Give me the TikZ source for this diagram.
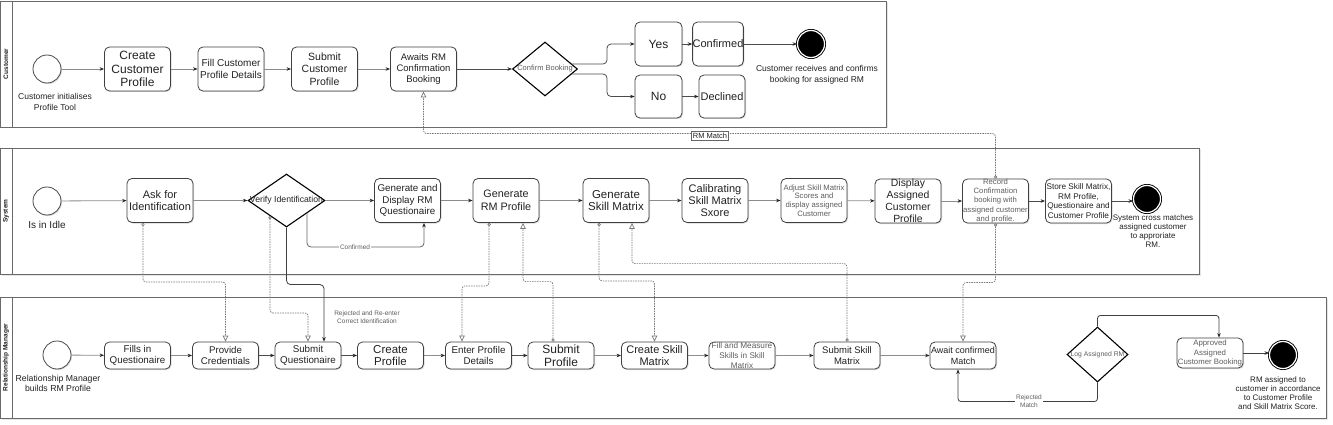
\documentclass[tikz,border=0pt]{standalone}
\usepackage{fontspec}
\setmainfont{Liberation Sans}
\usetikzlibrary{arrows.meta,shapes.geometric,shadows,calc}
\definecolor{txt}{HTML}{222222}
\definecolor{gtxt}{HTML}{5E5E5E}
\definecolor{flowc}{HTML}{8C8C8C}
\definecolor{lanec}{HTML}{6A6A6A}
\definecolor{msgc}{HTML}{777777}
\newcommand\fsz[2]{\fontsize{#1}{#2}\selectfont}
\begin{document}
\begin{tikzpicture}[x=1pt,y=-1pt,
  lanebox/.style={draw=lanec, line width=0.9pt, fill=white, drop shadow={shadow xshift=1.5pt, shadow yshift=-1.5pt, opacity=0.2}},
  laneline/.style={draw=lanec, line width=0.9pt},
  lanelbl/.style={rotate=90, font=\bfseries\fsz{6.5}{7}, text=txt, inner sep=0pt},
  task/.style={draw=black!75, line width=0.8pt, fill=white, rounded corners=5pt, align=center, inner sep=1pt, text=txt, drop shadow={shadow xshift=1pt, shadow yshift=-1pt, opacity=0.3}},
  big/.style={minimum width=66pt, minimum height=44pt},
  low/.style={minimum width=66pt, minimum height=27pt},
  gate/.style={shape=diamond, draw=black, line width=1.1pt, fill=white, inner sep=0pt},
  startev/.style={circle, draw=black!70, line width=0.8pt, fill=white, minimum size=28pt, inner sep=0pt, drop shadow={shadow xshift=1pt, shadow yshift=-1pt, opacity=0.3}},
  endev/.style={circle, draw=black, fill=black, double=white, double distance=1.2pt, line width=0.9pt, minimum size=27pt, inner sep=0pt},
  lbl/.style={align=center, text=txt, inner sep=0pt},
  elbl/.style={font=\fsz{6.5}{8}, text=gtxt, fill=white, inner sep=1pt, align=center},
  flow/.style={draw=flowc, line width=0.8pt, -{Stealth[length=4.5pt,width=3.5pt,color=black!85]}},
  msg/.style={draw=msgc, line width=0.7pt, dash pattern=on 1.5pt off 1pt, rounded corners=3pt, {Circle[open,length=3.2pt,width=3.2pt]}-{Triangle[open,length=6pt,width=5.5pt]}},
  msgb/.style={draw=msgc, line width=0.7pt, dash pattern=on 1.5pt off 1pt, rounded corners=3pt, {Circle[open,length=3.2pt,width=3.2pt]}-{Triangle[open,length=6pt,width=5.5pt]}}
]
\fill[white] (0,0) rectangle (1333,425);
\useasboundingbox (0,0) rectangle (1333,425);

% ---------- lanes ----------
\draw[lanebox] (0,1) rectangle (886,127);
\draw[laneline] (12,1) -- (12,127);
\draw[lanebox] (0,148) rectangle (1199,274);
\draw[laneline] (12,148) -- (12,274);
\draw[lanebox] (0,297) rectangle (1326,418);
\draw[laneline] (12,297) -- (12,418);
\node[lanelbl] (l1) at (6,64) {Customer};
\node[lanelbl] (l2) at (6,211) {System};
\node[lanelbl] (l3) at (6,357.5) {Relationship Manager};

% ---------- Customer lane ----------
\node[startev] (cs) at (47,69) {};
\node[lbl,font=\fsz{8.5}{10.5}] (csl) at (55,102) {Customer initialises\\Profile Tool};
\node[task,big,font=\fsz{12}{13.5}] (cc) at (137.5,69) {Create\\Customer\\Profile};
\node[task,big,font=\fsz{10}{12}] (cf) at (231,69) {Fill Customer\\Profile Details};
\node[task,big,font=\fsz{10.5}{12.5}] (csub) at (324.5,69) {Submit\\Customer\\Profile};
\node[task,big,font=\fsz{9.5}{11.3}] (caw) at (423.5,69) {Awaits RM\\Confirmation\\Booking};
\node[gate,minimum width=65pt,minimum height=54pt,label={[font=\fsz{7.5}{9},text=gtxt]center:Confirm Booking}] (cb) at (545,69) {};
\node[task,minimum width=47pt,minimum height=44pt,font=\fsz{12}{14}] (yes) at (658.5,44) {Yes};
\node[task,minimum width=50pt,minimum height=44pt,font=\fsz{11}{13},inner sep=0pt] (conf) at (718,44) {Confirmed};
\node[task,minimum width=47pt,minimum height=43pt,font=\fsz{12}{14}] (no) at (658.5,96.5) {No};
\node[task,minimum width=46pt,minimum height=43pt,font=\fsz{11}{13},inner sep=0pt] (decl) at (722,96.5) {Declined};
\node[endev] (ce) at (811,44) {};
\node[lbl,font=\fsz{8.5}{11}] (cel) at (817,74.5) {Customer receives and confirms\\booking for assigned RM};

% ---------- System lane ----------
\node[startev] (ss) at (47,201) {};
\node[lbl,font=\fsz{10}{12}] (ssl) at (47,225) {Is in Idle};
\node[task,big,font=\fsz{11}{12.7}] (ask) at (160,200.5) {Ask for\\Identification};
\node[gate,minimum width=77pt,minimum height=53pt,label={[font=\fsz{8.7}{10},text=txt]center:Verify Identification}] (ver) at (286.5,200.5) {};
\node[task,big,font=\fsz{9.8}{11.8}] (genq) at (407.5,200.5) {Generate and\\Display RM\\Questionaire};
\node[task,big,font=\fsz{10.8}{12.5}] (genrm) at (506,200.5) {Generate\\RM Profile};
\node[task,big,font=\fsz{11.5}{12.5}] (gensm) at (616,200.5) {Generate\\Skill Matrix};
\node[task,big,font=\fsz{11}{12.3}] (cal) at (715,200.5) {Calibrating\\Skill Matrix\\Sxore};
\node[task,big,font=\fsz{7.7}{8.7},text=gtxt] (adj) at (814,200.5) {Adjust Skill Matrix\\Scores and\\display assigned\\Customer};
\node[task,big,label={[font=\fsz{10.4}{12},text=txt,align=center]center:{Display\\Assigned\\Customer\\Profile}}] (disp) at (908,201) {};
\node[task,big,label={[font=\fsz{7.7}{9.1},text=gtxt,align=center]center:{Record\\Confirmation\\booking with\\assigned customer\\and profile.}}] (rec) at (995.5,201) {};
\node[task,big,font=\fsz{8.2}{9.8}] (store) at (1078.5,201) {Store Skill Matrix,\\RM Profile,\\Questionaire and\\Customer Profile};
\node[endev] (se) at (1147,199) {};
\node[lbl,font=\fsz{8}{9}] (sel) at (1153,231.5) {System cross matches\\assigned customer\\to approriate\\RM.};

% ---------- Relationship Manager lane ----------
\node[startev] (rs) at (57,355) {};
\node[lbl,font=\fsz{8.7}{9.5}] (rsl) at (58,383.5) {Relationship Manager\\builds RM Profile};
\node[task,low,font=\fsz{9.8}{11}] (fills) at (137.5,355.5) {Fills in\\Questionaire};
\node[task,low,font=\fsz{9.7}{11}] (prov) at (225.5,355.5) {Provide\\Credentials};
\node[task,low,font=\fsz{9.8}{11}] (subq) at (308,355.5) {Submit\\Questionaire};
\node[task,low,label={[font=\fsz{11.5}{12.7},text=txt,align=center]center:{Create\\Profile}}] (crp) at (390.5,355.5) {};
\node[task,low,font=\fsz{9.8}{11}] (ent) at (478.5,355.5) {Enter Profile\\Details};
\node[task,low,label={[font=\fsz{12}{13.5},text=txt,align=center]center:{Submit\\Profile}}] (subp) at (561,355.5) {};
\node[task,low,font=\fsz{11}{12.3}] (crsm) at (654.5,355.5) {Create Skill\\Matrix};
\node[task,low,label={[font=\fsz{8.2}{10.3},text=gtxt,align=center]center:{Fill and Measure\\Skills in Skill\\Matrix}}] (fillm) at (742,355.5) {};
\node[task,low,font=\fsz{9.5}{11}] (subsm) at (847,355.5) {Submit Skill\\Matrix};
\node[task,low,font=\fsz{9}{11}] (await) at (963,355.5) {Await confirmed\\Match};
\node[gate,minimum width=61pt,minimum height=55pt,label={[font=\fsz{6.8}{8},text=gtxt]center:Log Assigned RM}] (log) at (1097.5,354.5) {};
\node[task,minimum width=66pt,minimum height=30pt,font=\fsz{7.8}{9.2},text=gtxt] (appr) at (1210,353) {Approved\\Assigned\\Customer Booking};
\node[endev] (re) at (1283,355) {};
\node[lbl,font=\fsz{8}{9}] (rel) at (1278,393.5) {RM assigned to\\customer in accordance\\to Customer Profile\\and Skill Matrix Score.};

% ---------- Customer flows ----------
\draw[flow] (cs) -- (cc);
\draw[flow] (cc) -- (cf);
\draw[flow] (cf) -- (csub);
\draw[flow] (csub) -- (caw);
\draw[flow,draw=black!70] (caw) -- (cb);
\draw[flow,draw=black!70,rounded corners=4pt] ($(cb.center)+(27,-5)$) -- ++(35,0) |- (yes.west);
\draw[flow,draw=black!70,rounded corners=4pt] ($(cb.center)+(27,5)$) -- ++(35,0) |- (no.west);
\draw[flow,draw=black!70] (yes) -- (conf);
\draw[flow,draw=black!70] (no) -- (decl);
\draw[flow,draw=black!70] (conf) -- (ce);

% ---------- System flows ----------
\draw[flow] (ss) -- (ask);
\draw[flow] (ask) -- (ver);
\draw[flow] (ver) -- (genq);
\draw[flow] (genq) -- (genrm);
\draw[flow] (genrm) -- (gensm);
\draw[flow] (gensm) -- (cal);
\draw[flow] (cal) -- (adj);
\draw[flow] (adj) -- (disp);
\draw[flow] (disp) -- (rec);
\draw[flow,draw=black!70] (rec) -- (store);
\draw[flow,draw=black!70] (store.east) -- (store.east -| se.west);
\draw[flow,draw=black!60,rounded corners=4pt] ($(ver.center)+(20.5,12.4)$) -- ++(0,34.1) -| ([xshift=16.5pt]genq.south);
\node[elbl] (confl) at (355,247) {Confirmed};
\draw[flow,draw=black!75,rounded corners=4pt] (ver.south) -- ++(0,57) -| ([xshift=16pt]subq.north);
\node[elbl,fill=none] (rejl) at (367,317) {Rejected and Re-enter\\Correct Identification};

% ---------- RM flows ----------
\draw[flow] (rs) -- (fills);
\draw[flow] (fills) -- (prov);
\draw[flow,draw=black!70] (prov) -- (subq);
\draw[flow,draw=black!70] (subq) -- (crp);
\draw[flow] (crp) -- (ent);
\draw[flow,draw=black!70] (ent) -- (subp);
\draw[flow] (subp) -- (crsm);
\draw[flow] (crsm) -- (fillm);
\draw[flow] (fillm) -- (subsm);
\draw[flow] (subsm) -- (await);
\draw[flow,draw=black!75,rounded corners=3pt] (log.north) -- ++(0,-11) -| ([xshift=9pt]appr.north);
\draw[flow,draw=black!75] (appr.east) -- (appr.east -| re.west);
\draw[flow,draw=black!75,rounded corners=3pt] (log.south) -- ++(0,19) -| ([xshift=-5pt]await.south);
\node[elbl] (rejm) at (1029,401) {Rejected\\Match};

% ---------- message flows ----------
\draw[msg] ([xshift=-17pt]ask.south) -- ++(0,59) -| (prov.north);
\draw[msg] ($(ver.center)+(-16.5,15.5)$) -- ++(0,97) -| (subq.north);
\draw[msg] ([xshift=-17pt]genrm.south) -- ++(0,63) -| ([xshift=-16.5pt]ent.north);
\draw[msg] ([xshift=-8pt]subp.north) -- ++(0,-60) -| ([xshift=17pt]genrm.south);
\draw[msg] ([xshift=-17pt]gensm.south) -- ++(0,58) -| (crsm.north);
\draw[msg] (subsm.north) -- ++(0,-78) -| ([xshift=16pt]gensm.south);
\draw[msg] (rec.south) -- ++(0,59) -| (await.north);
\draw[msg] (rec.north) -- ++(0,-45) -| (caw.south);
\node[draw=black!60, fill=white, line width=0.6pt, inner sep=1.5pt, font=\fsz{7.5}{9}, text=txt] (rmm) at (710,136) {RM Match};
\end{tikzpicture}
\end{document}
